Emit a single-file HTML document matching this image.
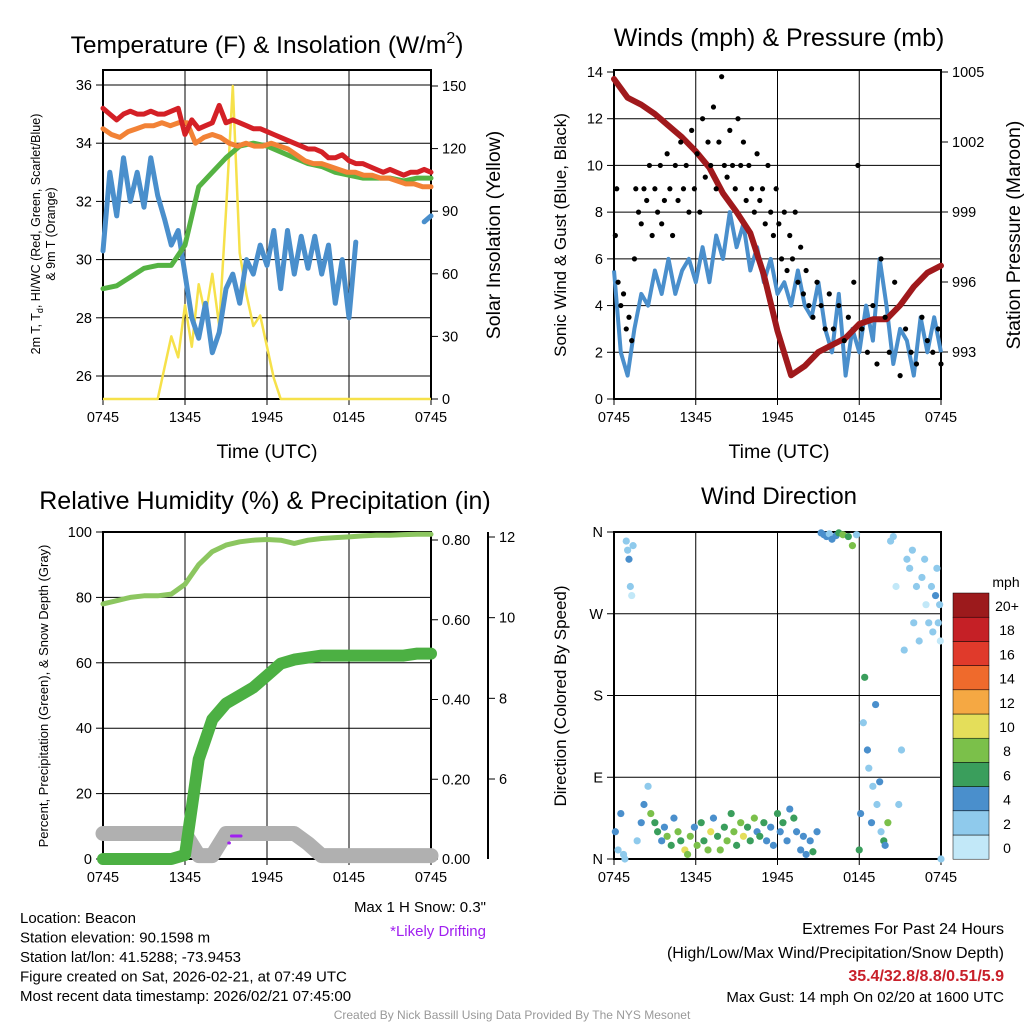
<!DOCTYPE html>
<html><head><meta charset="utf-8"><style>
html,body{margin:0;padding:0;background:#fff;width:1024px;height:1024px;overflow:hidden}
svg{font-family:"Liberation Sans",Arial,sans-serif}
</style></head><body>
<svg id="s" width="1024" height="1024" viewBox="0 0 1024 1024" xmlns="http://www.w3.org/2000/svg">
<rect width="1024" height="1024" fill="#fff"/>
</svg>
<script>
// ---------- DATA ----------
const timeTicks = ["0745","1345","1945","0145","0745"];
const tempRed = [35.2,35.0,34.8,35.0,35.1,35.0,35.0,35.1,35.0,35.0,35.1,35.2,34.3,34.8,34.5,34.6,34.7,35.3,34.7,34.8,34.7,34.6,34.5,34.5,34.4,34.3,34.2,34.1,34.0,33.9,33.8,33.8,33.7,33.5,33.5,33.6,33.4,33.3,33.3,33.2,33.1,33.0,33.1,33.0,32.9,33.0,33.0,33.1,33.0];
const tempOrange = [34.5,34.3,34.2,34.4,34.5,34.6,34.6,34.7,34.6,34.7,34.7,34.0,34.2,34.3,34.2,34.0,33.9,34.0,33.9,33.9,34.0,33.9,33.8,33.6,33.4,33.3,33.3,33.2,33.1,33.0,33.0,32.9,32.9,32.8,32.8,32.7,32.6,32.6,32.5,32.5];
const tempGreen = [29.0,29.1,29.4,29.7,29.8,29.8,30.5,32.5,33.0,33.5,33.9,34.0,33.9,33.7,33.5,33.3,33.2,33.0,32.9,32.8,32.8,32.8,32.7,32.8,32.8];
const tempBlue = [30.3,33,31.5,33.5,32,33,31.8,33.5,32.2,31.4,30.5,31,29.5,28,27.3,28.5,26.8,27.5,29,29.5,28.5,30,29.5,30.5,29.8,31,29,31,29.5,30.8,29.7,30.8,29.5,30.5,28.5,30,28,30.6,null,null,null,30.4,null,null,null,null,null,31.3,31.5];
const solar = [0,0,0,0,0,0,0,0,0,15,30,20,45,25,55,40,60,35,90,150,70,50,35,40,25,10,0,0,0,0,0,0,0,0,0,0,0,0,0,0,0,0,0,0,0,0,0,0,0];
const windSpeed = [5.5,2,1,3,4.5,4,5.5,4.5,6,4.5,5.5,6,5,6.5,5,7,6,8,6.5,7.5,5.5,6.5,5,6,4.5,5,4,5.5,4,3.5,5,3,2,4.5,1,3,2,4,2.5,6,4,1.5,3,2.5,1,3.5,2,3.5,2];
const gustHour = [0.1,0.2,0.3,0.5,0.7,0.9,1.1,1.3,1.5,1.6,1.8,2.0,2.2,2.4,2.6,2.8,3.0,3.2,3.4,3.5,3.7,3.9,4.1,4.3,4.5,4.7,4.9,5.1,5.3,5.5,5.7,5.9,6.1,6.3,6.5,6.7,6.9,7.1,7.3,7.5,7.7,7.9,8.1,8.3,8.5,8.7,8.9,9.1,9.3,9.5,9.7,9.9,10.1,10.3,10.5,10.7,10.9,11.1,11.3,11.5,11.7,11.9,12.1,12.3,12.5,12.7,12.9,13.1,13.3,13.5,13.7,13.9,14.1,14.3,14.6,14.9,15.2,15.5,15.8,16.1,16.5,16.9,17.2,17.6,17.9,18.2,18.6,19.0,19.3,19.6,19.9,20.2,20.6,21.0,21.4,21.8,22.2,22.6,23.0,23.4,23.8,24];
const gustVal = [7,9,5,4,4.5,3,3.5,2.5,6,9,8,7.5,9,8.5,10,7,9,8,10,7.5,8.5,10.5,9,7,10,8.5,11,9,10,8,11.5,9,10.5,8,12,9.5,11,10,12.5,9,11,13.8,10,9.5,11.5,10,9,12,10,11,8.5,10,9,8,10.5,8.5,9,7.5,10,8,7,9,7.5,6,8,5.5,7,6,8,5,6.5,4.5,5.5,4,3.5,5,4,3,4.5,3,4,2.5,3.5,5,10,3,2,4,1.5,6,3.5,2,5,1,3,2,1.5,3.5,2.5,2,3,1.5];
const pressure = [1004.7,1003.9,1003.6,1003.2,1002.7,1002.2,1001.6,1000.9,999.8,999.0,998.1,996.3,993.9,992.0,992.4,993.0,993.3,993.6,994.2,994.4,994.4,995.0,995.8,996.4,996.7];
const rh = [78,79,80,80.5,80.5,81,84,90,94,96,97,97.5,97.7,97.5,96.5,97.5,98,98.3,98.5,98.8,99,99,99.2,99.3,99.3];
const precip = [0,0,0,0,0,0,0.01,0.25,0.35,0.39,0.41,0.43,0.46,0.49,0.50,0.505,0.51,0.51,0.51,0.51,0.51,0.51,0.51,0.515,0.515];
const snow = [4.65,4.65,4.65,4.65,4.65,4.65,4.65,4.1,4.1,4.65,4.65,4.65,4.65,4.65,4.65,4.4,4.1,4.1,4.1,4.1,4.1,4.1,4.1,4.1,4.1];
const dirHour = [0.1,0.3,0.5,0.7,0.9,1.0,1.1,1.2,1.3,1.4,0.8,1.7,
2.0,2.2,2.5,2.7,3.0,3.2,3.5,3.7,3.9,4.2,4.4,4.7,4.9,5.2,5.4,5.6,5.9,6.1,6.4,6.6,6.9,7.1,7.3,7.6,7.8,8.1,8.3,8.6,8.8,9.0,9.3,9.5,9.8,10.0,10.3,10.5,10.7,11.0,11.2,11.5,11.7,12.0,12.2,12.4,12.7,12.9,13.2,13.4,13.7,13.9,14.1,14.4,14.6,14.9,
15.2,15.4,15.6,15.8,16.0,16.3,16.5,16.8,17.2,17.5,17.8,
18.0,18.1,18.3,18.4,18.6,18.7,18.9,19.0,19.2,19.3,19.5,19.6,19.8,19.9,20.1,20.3,20.5,20.7,20.9,
21.1,21.3,21.5,21.7,21.9,22.0,22.2,22.4,22.6,22.8,22.9,23.1,23.3,23.4,23.6,23.7,23.8,23.9,23.95,24];
const dirDeg = [30,10,50,5,350,340,330,300,290,345,0,20,40,60,80,50,40,30,20,35,25,15,45,30,20,10,5,25,35,15,40,20,10,30,45,25,10,35,20,50,30,15,40,25,35,20,45,30,25,40,20,35,15,50,30,40,20,55,45,30,10,25,5,20,8,30,359,357,355,358,352,356,359,357,355,345,357,10,50,150,200,120,100,40,80,170,60,85,30,20,15,40,350,355,300,60,120,230,330,320,340,260,300,240,310,330,280,260,300,250,290,320,260,280,240,0];
const dirSpd = [3,1,3,2,2,1,3,1,0,1,2,1,4,3,2,7,6,5,4,3,7,5,4,8,6,9,8,7,4,8,6,5,7,9,4,6,8,6,7,5,8,6,7,9,6,5,7,4,6,5,4,3,4,5,4,6,3,4,5,4,3,4,3,4,5,3,4,3,4,2,4,3,5,7,6,7,1,5,3,2,6,3,2,4,1,3,2,3,1,5,4,7,1,1,0,2,1,2,2,1,1,2,1,2,1,1,0,1,2,2,3,1,2,1,0,2];
const cbLabels = ["0","2","4","6","8","10","12","14","16","18","20+"];
const cbColors = ["#c2e8f8","#8fcaec","#4a8fcc","#3a9e5c","#7bc04a","#e4de5a","#f5a843","#ef6a2c","#e03a2b","#c52026","#9c1a1c"];

// ---------- HELPERS ----------
const NS="http://www.w3.org/2000/svg";
const svg=document.getElementById('s');
function mk(tag,attrs,parent){const e=document.createElementNS(NS,tag);for(const k in attrs)e.setAttribute(k,attrs[k]);(parent||svg).appendChild(e);return e;}
function txt(x,y,s,size,anchor,parent,extra){const t=mk('text',Object.assign({x:x,y:y,'font-size':size,'text-anchor':anchor||'middle',fill:'#000'},extra||{}),parent);t.textContent=s;return t;}
function panel(x0,y0,w,h){return {x0,y0,w,h,x:hr=>x0+hr*w/24};}
function lin(v0,p0,v1,p1){return v=>p0+(v-v0)*(p1-p0)/(v1-v0);}
function seriesPath(arr,xf,yf){let d='',pen=false;const n=arr.length;for(let i=0;i<n;i++){const v=arr[i];if(v===null){pen=false;continue;}const X=xf(i*24/(n-1)),Y=yf(v);d+=(pen?'L':'M')+X.toFixed(1)+' '+Y.toFixed(1);pen=true;}return d;}
function frame(P,g){
  for(let i=0;i<5;i++){const X=P.x0+i*P.w/4;mk('line',{x1:X,y1:P.y0,x2:X,y2:P.y0+P.h,stroke:'#000','stroke-width':1},g);}
  mk('rect',{x:P.x0,y:P.y0,width:P.w,height:P.h,fill:'none',stroke:'#000','stroke-width':2},g);
  timeTicks.forEach((t,i)=>{const X=P.x0+i*P.w/4;mk('line',{x1:X,y1:P.y0+P.h,x2:X,y2:P.y0+P.h+6,stroke:'#000'},g);const l=txt(X,P.y0+P.h+23,t,14.5,'middle',g);});
}
function hgrid(P,ys,g){ys.forEach(Y=>mk('line',{x1:P.x0,y1:Y,x2:P.x0+P.w,y2:Y,stroke:'#000','stroke-width':1},g));}
function yTicks(g,xAxis,vals,yf,labels,side,size){vals.forEach((v,i)=>{const Y=yf(v);const dx=side==='left'?-7:7;mk('line',{x1:xAxis,y1:Y,x2:xAxis+dx,y2:Y,stroke:'#000'},g);const l=txt(xAxis+(side==='left'?-11:11),Y+5,labels[i],size||14.5,side==='left'?'end':'start',g);});}

// ---------- PANEL 1 ----------
const P1=panel(103,70,328,329);
const g1=mk('g',{});
const yT=lin(26,376,36,85), yS=lin(0,399,150,86);
hgrid(P1,[36,34,32,30,28,26].map(yT),g1);
frame(P1,g1);
yTicks(g1,P1.x0,[36,34,32,30,28,26],yT,["36","34","32","30","28","26"],'left');
yTicks(g1,P1.x0+P1.w,[0,30,60,90,120,150],yS,["0","30","60","90","120","150"],'right');
const solarP=mk('path',{d:seriesPath(solar,P1.x,yS),fill:'none',stroke:'#f6e14a','stroke-width':2.5,'stroke-linejoin':'round'},g1);

[[tempBlue,'#4a8fcc','dewpoint-line'],[tempGreen,'#55b343','wind-chill-line'],[tempOrange,'#f28236','temp-9m-line'],[tempRed,'#d42026','temp-2m-line']].forEach(([a,c,n])=>{const p=mk('path',{d:seriesPath(a,P1.x,yT),fill:'none',stroke:c,'stroke-width':5,'stroke-linejoin':'round','stroke-linecap':'round'},g1);});
const t1=mk('text',{x:267,y:53,'font-size':24.5,'text-anchor':'middle'});t1.innerHTML='Temperature (F) &amp; Insolation (W/m<tspan dy="-10" font-size="16">2</tspan><tspan dy="10">)</tspan>';
const xl1=txt(267,458,'Time (UTC)',19.5);
const yl1=mk('text',{transform:'translate(40,234) rotate(-90)','font-size':12.5,'text-anchor':'middle'});yl1.innerHTML='<tspan x="0" y="0">2m T, T<tspan font-size="9" dy="3">d</tspan><tspan dy="-3">, HI/WC (Red, Green, Scarlet/Blue)</tspan></tspan><tspan x="0" y="15">&amp; 9m T (Orange)</tspan>';

const yr1=txt(0,0,'Solar Insolation (Yellow)',19.5,'middle',svg,{transform:'translate(500,235) rotate(-90)'});

// ---------- PANEL 2 ----------
const P2=panel(614,70,327,329);
const g2=mk('g',{});
const yW=lin(0,399,14,72), yP=lin(993,352,1005,72);
hgrid(P2,[2,4,6,8,10,12].map(yW),g2);
frame(P2,g2);
yTicks(g2,P2.x0,[0,2,4,6,8,10,12,14],yW,["0","2","4","6","8","10","12","14"],'left');
yTicks(g2,P2.x0+P2.w,[993,996,999,1002,1005],yP,["993","996","999","1002","1005"],'right');
const wp=mk('path',{d:seriesPath(windSpeed,P2.x,yW),fill:'none',stroke:'#4a8fcc','stroke-width':4,'stroke-linejoin':'round'},g2);

const pp=mk('path',{d:seriesPath(pressure,P2.x,yP),fill:'none',stroke:'#a0191c','stroke-width':6,'stroke-linejoin':'round','stroke-linecap':'round'},g2);

gustHour.forEach((h,i)=>{const c=mk('circle',{cx:P2.x(h),cy:yW(gustVal[i]),r:2.6,fill:'#000'},g2);});
const t2=txt(779,46,'Winds (mph) & Pressure (mb)',25);
const xl2=txt(779,458,'Time (UTC)',19.5);
const yl2=txt(0,0,'Sonic Wind & Gust (Blue, Black)',17,'middle',svg,{transform:'translate(566,235) rotate(-90)'});
const yr2=txt(0,0,'Station Pressure (Maroon)',19.5,'middle',svg,{transform:'translate(1020,235) rotate(-90)'});

// ---------- PANEL 3 ----------
const P3=panel(103,532,328,327);
const g3=mk('g',{});
const yH=lin(0,859,100,532), yPr=lin(0,859,0.8,540), ySn=lin(12,537,6,779);
hgrid(P3,[20,40,60,80].map(yH),g3);
frame(P3,g3);
yTicks(g3,P3.x0,[0,20,40,60,80,100],yH,["0","20","40","60","80","100"],'left');
yTicks(g3,P3.x0+P3.w,[0,0.2,0.4,0.6,0.8],yPr,["0.00","0.20","0.40","0.60","0.80"],'right');
mk('line',{x1:488,y1:532,x2:488,y2:859,stroke:'#000','stroke-width':2},g3);
yTicks(g3,488,[6,8,10,12],ySn,["6","8","10","12"],'right');
const sp=mk('path',{d:seriesPath(snow,P3.x,ySn),fill:'none',stroke:'#b0b0b0','stroke-width':15,'stroke-linejoin':'round','stroke-linecap':'round'},g3);

const prp=mk('path',{d:seriesPath(precip,P3.x,yPr),fill:'none',stroke:'#4cb043','stroke-width':12,'stroke-linejoin':'round','stroke-linecap':'round'},g3);

const rhp=mk('path',{d:seriesPath(rh,P3.x,yH),fill:'none',stroke:'#8cc660','stroke-width':5,'stroke-linejoin':'round','stroke-linecap':'round'},g3);

const dr=mk('path',{d:'M'+P3.x(9.4)+' 836 L'+P3.x(10.1)+' 836 M'+P3.x(9.2)+' 843 L'+P3.x(9.25)+' 843',stroke:'#a020f0','stroke-width':3,'stroke-linecap':'round',fill:'none'},g3);

const t3=txt(265,509,'Relative Humidity (%) & Precipitation (in)',25);
const yl3=txt(0,0,'Percent, Precipitation (Green), & Snow Depth (Gray)',13,'middle',svg,{transform:'translate(48,696) rotate(-90)'});
const ms=txt(486,912,'Max 1 H Snow: 0.3"',15,'end');
const ld=txt(486,936,'*Likely Drifting',15,'end',svg,{fill:'#a020f0'});

// ---------- PANEL 4 ----------
const P4=panel(614,532,327,327);
const g4=mk('g',{});
const yD=lin(0,859,360,532);
hgrid(P4,[90,180,270].map(yD),g4);
frame(P4,g4);
yTicks(g4,P4.x0,[0,90,180,270,360],yD,["N","E","S","W","N"],'left');
function spdColor(s){return cbColors[Math.min(10,Math.max(0,Math.round(s/2)))];}
dirHour.forEach((h,i)=>{const c=mk('circle',{cx:P4.x(h),cy:yD(dirDeg[i]),r:3.6,fill:spdColor(dirSpd[i])},g4);});
const t4=txt(779,504,'Wind Direction',24);
const yl4=txt(0,0,'Direction (Colored By Speed)',17,'middle',svg,{transform:'translate(566,696) rotate(-90)'});
const cb=mk('g',{});
cbColors.forEach((c,i)=>{const Y=835-i*24.2;const r=mk('rect',{x:953,y:Y,width:36,height:24.2,fill:c,stroke:'#000','stroke-width':0.5},cb);const l=txt(1007,Y+18,cbLabels[i],14,'middle',cb);});
const cbt=txt(1006,587,'mph',14);

// ---------- FOOTER ----------
["Location: Beacon","Station elevation: 90.1598 m","Station lat/lon: 41.5288; -73.9453","Figure created on Sat, 2026-02-21, at 07:49 UTC","Most recent data timestamp: 2026/02/21 07:45:00"].forEach((s,i)=>{const t=txt(20,923+i*19.5,s,15,'start');});
const e1=txt(1004,934,'Extremes For Past 24 Hours',16,'end');
const e2=txt(1004,958,'(High/Low/Max Wind/Precipitation/Snow Depth)',16,'end');
const e3=txt(1004,981,'35.4/32.8/8.8/0.51/5.9',16,'end',svg,{fill:'#c8202a','font-weight':'bold'});
const e4=txt(1004,1002,'Max Gust: 14 mph On 02/20 at 1600 UTC',15,'end');
const cr=txt(512,1019,'Created By Nick Bassill Using Data Provided By The NYS Mesonet',12,'middle',svg,{fill:'#999'});
</script>
</body></html>
